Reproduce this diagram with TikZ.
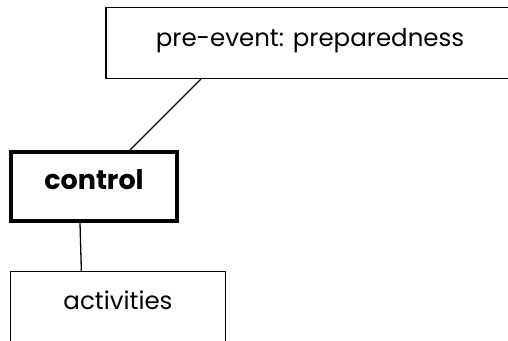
\documentclass[tikz,border=0pt]{standalone}
\usepackage{fontspec}
\setmainfont{Poppins}
\usepackage{tikz}

\begin{document}
\begin{tikzpicture}[
  x=1pt, y=-1pt,
  box/.style={rectangle, draw, line width=1.3pt, inner sep=0pt, text height=15pt, text depth=9pt, font=\fontsize{24.5}{28}\selectfont},
  mainbox/.style={box, line width=4pt, font=\fontsize{27}{30}\selectfont\bfseries},
  line/.style={draw, line width=1.3pt}
]
\useasboundingbox[clip] (0,0) rectangle (508,340);

\node [box, minimum width=408pt, minimum height=71pt] (preevent) at (310,43) {pre-event: preparedness};
\node [mainbox, minimum width=166pt, minimum height=69pt] (control) at (94,186.5) {control};
\node [box, minimum width=215pt, minimum height=70pt] (activities) at (118,306.5) {activities};

\path [line] ([xshift=95.5pt]preevent.south west) -- ([xshift=121pt]control.north west);
\path [line] ([xshift=71pt]control.south west) -- ([xshift=71.5pt]activities.north west);

\end{tikzpicture}
\end{document}
